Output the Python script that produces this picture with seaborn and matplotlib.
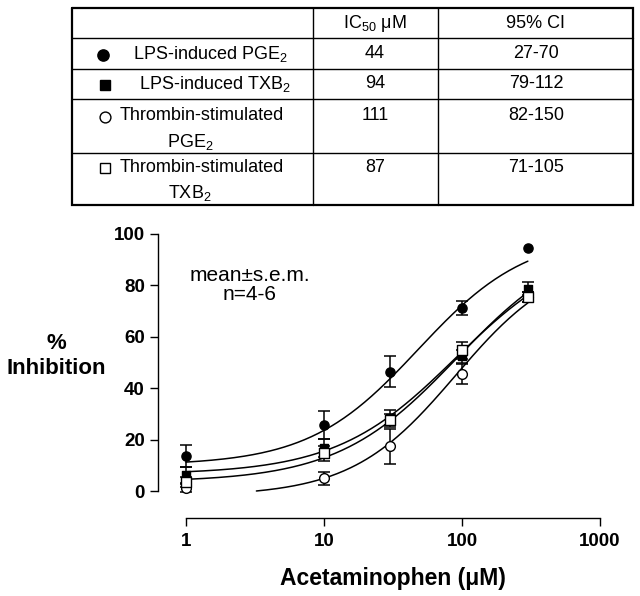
import numpy as np
import matplotlib
matplotlib.use("Agg")
import matplotlib.pyplot as plt
import seaborn as sns

# -------------------- data --------------------
conc = [1, 10, 30, 100, 300]

lps_pge2 = [13.6, 25.6, 46.5, 71.3, 94.6]
lps_pge2_sem = [4.2, 5.4, 6.2, 2.7, np.nan]

lps_txb2 = [6.2, 16.7, 28.5, 52.5, 78.7]
lps_txb2_sem = [3.0, 3.5, 3.0, 2.5, 2.5]

thr_pge2 = [1.2, 5.0, 17.4, 45.7, 75.5]
thr_pge2_sem = [1.5, 2.5, 6.8, 3.9, 2.0]

thr_txb2 = [3.5, 14.7, 27.5, 54.7, 75.6]
thr_txb2_sem = [2.0, 3.0, 2.5, 3.4, 2.0]

# fitted curves: bottom, top, EC50, hill slope
fit_lps_pge2 = (10, 100, 48, 1.1)
fit_lps_txb2 = (6.5, 97, 90, 1.0)
fit_thr_pge2 = (-2, 92, 90, 1.15)
fit_thr_txb2 = (3.5, 100, 92, 1.0)

# table contents
row_names = ["LPS-induced PGE$_2$", "LPS-induced TXB$_2$",
             "Thrombin-stimulated", "Thrombin-stimulated"]
row_names_2 = ["", "", "PGE$_2$", "TXB$_2$"]
ic50 = ["44", "94", "111", "87"]
ci95 = ["27-70", "79-112", "82-150", "71-105"]


def hill(x, p):
    b, t, e, h = p
    return b + (t - b) / (1 + (e / x) ** h)


# -------------------- style --------------------
sns.set_style("ticks")
plt.rcParams['font.family'] = ['Liberation Sans', 'DejaVu Sans']
plt.rcParams['mathtext.default'] = 'regular'
plt.rcParams['text.color'] = 'black'
plt.rcParams['axes.labelcolor'] = 'black'
plt.rcParams['xtick.color'] = 'black'
plt.rcParams['ytick.color'] = 'black'

fig = plt.figure(figsize=(6.4, 5.96), dpi=100)

# -------------------- graph --------------------
ax = fig.add_axes([158 / 640, 78 / 596, 442 / 640, 284 / 596])
ax.set_xscale('log')
ax.set_xlim(0.627, 1000)
ax.set_ylim(-10.5, 100)

series = [
    (lps_pge2, lps_pge2_sem, fit_lps_pge2, 'o', 'black', 6.6),
    (lps_txb2, lps_txb2_sem, fit_lps_txb2, 's', 'black', 6.2),
    (thr_pge2, thr_pge2_sem, fit_thr_pge2, 'o', 'white', 7.0),
    (thr_txb2, thr_txb2_sem, fit_thr_txb2, 's', 'white', 6.8),
]

xs = np.logspace(0, np.log10(300), 200)
for vals, sem, fit, mk, fc, ms in series:
    ys = hill(xs, fit)
    keep = ys >= 0
    sns.lineplot(x=xs[keep], y=ys[keep], color='black', lw=1.1, ax=ax,
                 zorder=2, estimator=None, sort=False)

for i, (vals, sem, fit, mk, fc, ms) in enumerate(series):
    ax.errorbar(conc, vals, yerr=sem, fmt='none', ecolor='black',
                elinewidth=1.1, capsize=4.5, capthick=1.1, zorder=3 + i)
    sns.scatterplot(x=conc, y=vals, marker=mk, color=fc, edgecolor='black',
                    linewidth=1.0, s=ms ** 2, ax=ax, zorder=6 + i,
                    clip_on=False)

ax.spines['top'].set_visible(False)
ax.spines['right'].set_visible(False)
ax.spines['left'].set_bounds(0, 100)
ax.spines['bottom'].set_bounds(1, 1000)
for s in ('left', 'bottom'):
    ax.spines[s].set_linewidth(1.0)
    ax.spines[s].set_color('black')

ax.set_yticks([0, 20, 40, 60, 80, 100])
ax.set_xticks([1, 10, 100, 1000])
ax.set_xticklabels(['1', '10', '100', '1000'])
ax.xaxis.set_minor_locator(matplotlib.ticker.NullLocator())
ax.tick_params(axis='both', direction='out', length=6, width=1.0,
               color='black', labelcolor='black', labelsize=13.5, pad=3.5)
ax.tick_params(axis='x', pad=5)
for lab in ax.get_xticklabels() + ax.get_yticklabels():
    lab.set_fontweight('bold')
ax.set_xlabel('')
ax.set_ylabel('')

ax.text(250, 311, 'mean±s.e.m.\nn=4-6', transform=None, fontsize=15,
        ha='center', va='center', linespacing=1.05)

# -------------------- overlay in pixel coords (labels + table) --------------------
ov = fig.add_axes([0, 0, 1, 1])
ov.set_xlim(0, 640)
ov.set_ylim(596, 0)
ov.axis('off')
ov.patch.set_visible(False)

ov.text(56, 356, '%\nInhibition', fontsize=16, fontweight='bold',
        ha='center', va='center', multialignment='center', linespacing=1.25)
ov.text(393, 578, 'Acetaminophen (μM)', fontsize=16.5, fontweight='bold',
        ha='center', va='center')

# table frame
tl, tr, tt, tb = 72, 633, 8, 205
ov.plot([tl, tr, tr, tl, tl], [tt, tt, tb, tb, tt], color='black', lw=1.6,
        solid_joinstyle='miter')
for yy in [38, 69, 99, 153]:
    ov.plot([tl, tr], [yy, yy], color='black', lw=1.0)
for xx in [313, 438]:
    ov.plot([xx, xx], [tt, tb], color='black', lw=1.0)

ov.text(375, 24, 'IC$_{50}$ μM', fontsize=13, ha='center', va='center')
ov.text(536, 24, '95% CI', fontsize=13, ha='center', va='center')

row_y = [54, 84, 116, 167]
mark_x = [103, 105, 105, 105]
name_x = [133, 139, 120, 120]
for i, (vals, sem, fit, mk, fc, ms) in enumerate(series):
    ov.plot(mark_x[i], row_y[i] + 1, marker=mk, color=fc,
            markeredgecolor='black', markeredgewidth=1.0,
            markersize=ms + (1.5 if fc == 'black' else 0.8), linestyle='none')
    ov.text(name_x[i], row_y[i], row_names[i], fontsize=13, ha='left',
            va='center')
    if row_names_2[i]:
        ov.text(190, row_y[i] + 26, row_names_2[i], fontsize=13,
                ha='center', va='center')
    ov.text(375, row_y[i], ic50[i], fontsize=13, ha='center', va='center')
    ov.text(536, row_y[i], ci95[i], fontsize=13, ha='center', va='center')

fig.savefig('out.png', dpi=100)
